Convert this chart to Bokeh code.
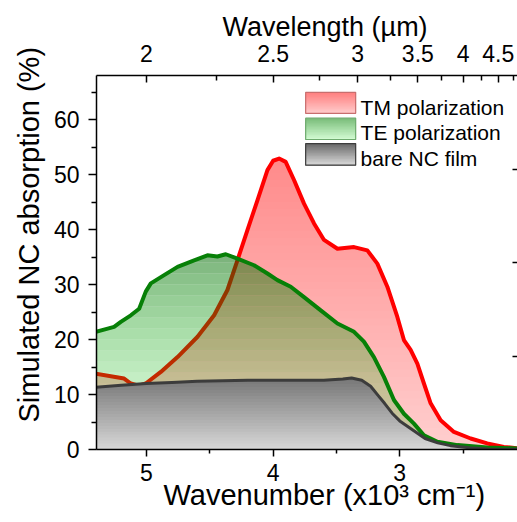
import numpy as np
from bokeh.plotting import figure
from bokeh.models import Range1d, LinearAxis, FixedTicker, CustomJSTickFormatter, Label, Title
from bokeh.embed import file_html
from bokeh.resources import INLINE

# ---------------- data ----------------
tm_wn = [5.40, 5.177, 5.124, 5.061, 5.006, 4.887, 4.755, 4.597, 4.466, 4.361, 4.282,
         4.203, 4.124, 4.045, 4.00, 3.953, 3.901, 3.835, 3.756, 3.677, 3.598, 3.492,
         3.361, 3.256, 3.177, 3.098, 3.019, 2.967, 2.914, 2.861, 2.809, 2.756, 2.677,
         2.572, 2.440, 2.309, 2.178, 2.07]
tm_abs = [13.8, 12.9, 12.0, 11.6, 12.0, 14.1, 16.8, 20.5, 24.4, 29.0, 34.4,
          39.9, 45.3, 50.8, 52.5, 52.9, 52.3, 49.0, 44.7, 41.1, 38.1, 36.5,
          36.8, 36.2, 33.8, 29.6, 24.1, 19.9, 18.1, 15.6, 12.0, 8.4, 5.3,
          3.2, 2.0, 1.1, 0.47, 0.2]

te_wn = [5.40, 5.256, 5.203, 5.124, 5.058, 5.006, 4.966, 4.861, 4.755, 4.624, 4.519,
         4.440, 4.374, 4.282, 4.151, 4.045, 3.966, 3.861, 3.756, 3.624, 3.492, 3.361,
         3.283, 3.204, 3.125, 3.046, 2.967, 2.888, 2.809, 2.703, 2.545, 2.309, 2.07]
te_abs = [21.4, 22.3, 23.2, 24.4, 25.6, 28.7, 30.2, 31.7, 33.2, 34.4, 35.3,
          35.1, 35.5, 34.7, 33.5, 32.0, 30.8, 29.6, 27.7, 25.3, 22.9, 21.4,
          19.6, 16.8, 13.2, 9.0, 6.5, 4.7, 2.6, 1.4, 0.8, 0.36, 0.2]

bare_wn = [5.40, 5.2, 5.0, 4.8, 4.6, 4.4, 4.2, 4.0, 3.8, 3.6, 3.45, 3.38, 3.3, 3.23,
           3.17, 3.12, 3.06, 3.0, 2.9, 2.8, 2.7, 2.6, 2.45, 2.3, 2.07]
bare_abs = [11.3, 11.7, 12.0, 12.2, 12.4, 12.5, 12.6, 12.6, 12.6, 12.6, 12.8, 13.0, 12.6,
            11.5, 9.8, 8.4, 6.6, 5.2, 3.6, 2.0, 1.2, 0.7, 0.3, 0.1, 0.05]

wn_ticks = [5, 4, 3]
wn_minor = [4.5, 3.5, 2.5]
abs_ticks = [0, 10, 20, 30, 40, 50, 60]
abs_minor = [5, 15, 25, 35, 45, 55, 65]
wl_ticks = [2, 2.5, 3, 3.5, 4, 4.5]
wl_minor = [2.25, 2.75, 3.25, 3.75, 4.25, 4.75]
right_ticks = [1, 2, 3]
legend_labels = ["TM polarization", "TE polarization", "bare NC film"]
x_title = "Wavenumber (x10\u00b3 cm\u207b\u00b9)"
top_title = "Wavelength (\u00b5m)"
y_title = "Simulated NC absorption (%)"

FONT = "Liberation Sans"

# ---------------- figure ----------------
p = figure(width=517, height=522, x_range=Range1d(5.395, 2.07), y_range=Range1d(0, 68),
           x_axis_type=None, y_axis_type=None, output_backend="svg", toolbar_location=None,
           min_border_left=96, min_border_right=0, min_border_top=75, min_border_bottom=73)
p.extra_y_ranges = {"right": Range1d(0, 4)}
p.outline_line_color = None
p.background_fill_color = "white"
p.border_fill_color = "white"


def style_axis(ax, tick_in, tick_out, mtick_in, mtick_out):
    ax.axis_line_color = "black"
    ax.axis_line_width = 1.5
    ax.major_tick_line_color = "black"
    ax.major_tick_line_width = 1.5
    ax.minor_tick_line_color = "black"
    ax.minor_tick_line_width = 1.5
    ax.major_tick_in = tick_in
    ax.major_tick_out = tick_out
    ax.minor_tick_in = mtick_in
    ax.minor_tick_out = mtick_out
    ax.major_label_text_font = FONT
    ax.major_label_text_font_size = "23px"
    ax.major_label_text_color = "black"


bottom = LinearAxis(ticker=FixedTicker(ticks=wn_ticks, minor_ticks=wn_minor))
style_axis(bottom, 0, 7, 0, 4)
bottom.major_label_standoff = 7
p.add_layout(bottom, "below")

left = LinearAxis(ticker=FixedTicker(ticks=abs_ticks, minor_ticks=abs_minor))
style_axis(left, 0, 8, 0, 5)
left.major_label_standoff = 9
p.add_layout(left, "left")

top = LinearAxis(ticker=FixedTicker(ticks=[10.0 / w for w in wl_ticks],
                                    minor_ticks=[10.0 / w for w in wl_minor]),
                 formatter=CustomJSTickFormatter(code="return String(Math.round(1000 / tick) / 100);"))
style_axis(top, 7, 0, 5, 0)
top.major_label_standoff = 14
p.add_layout(top, "above")

right = LinearAxis(y_range_name="right", ticker=FixedTicker(ticks=right_ticks, minor_ticks=[]),
                   formatter=CustomJSTickFormatter(code="return '';"))
right.axis_line_color = None
right.major_tick_in = 5
right.major_tick_out = 0
right.minor_tick_in = 0
right.minor_tick_out = 0
right.major_tick_line_color = "black"
right.major_tick_line_width = 1.5
right.major_label_standoff = 0
right.major_label_text_font_size = "0px"
p.add_layout(right, "right")

# axis titles (as panel titles so they can be offset like the reference)
p.add_layout(Title(text=x_title, text_font=FONT, text_font_size="29px", text_font_style="normal",
                   text_color="black", align="left", offset=67, vertical_align="top",
                   standoff=-10), "below")
p.add_layout(Title(text=top_title, text_font=FONT, text_font_size="27px", text_font_style="normal",
                   text_color="black", align="left", offset=126, vertical_align="bottom",
                   standoff=-1), "above")
p.add_layout(Title(text=y_title, text_font=FONT, text_font_size="29px", text_font_style="normal",
                   text_color="black", align="left", offset=27, vertical_align="bottom",
                   standoff=12), "left")


# ---------------- gradient fills ----------------
def dense(xs, ys, n=800):
    xs = np.asarray(xs, float)
    ys = np.asarray(ys, float)
    o = np.argsort(xs)
    xf = np.union1d(np.linspace(xs.min(), xs.max(), n), xs)
    return xf, np.interp(xf, xs[o], ys[o])


def mix(c0, c1, t):
    t = min(max(t, 0.0), 1.0)
    return tuple(int(round(a + (b - a) * t)) for a, b in zip(c0, c1))


def hexc(c):
    return "#%02x%02x%02x" % c


def opaque_gradient(xs, ys, c_bot, c_top, v_top, n):
    xf, yf = dense(xs, ys)
    for k in range(n):
        hi = v_top * (n - k) / n
        t = (hi - v_top / (2 * n)) / v_top
        p.varea(x=xf, y1=0, y2=np.minimum(yf, hi), fill_color=hexc(mix(c_bot, c_top, t)))


# TM (red) fill, opaque over white
opaque_gradient(tm_wn, tm_abs, (255, 207, 207), (255, 138, 138), 53.0, 40)
p.line(tm_wn, tm_abs, line_color="#ff0000", line_width=4, line_join="round")

# TE (green) fill, translucent bands aligned to 2-unit steps
xf, yf = dense(te_wn, te_abs)
edges = np.arange(0, 38, 2)
for a, b in zip(edges[:-1], edges[1:]):
    mid = 0.5 * (a + b)
    t = (mid - 12.0) / (35.0 - 12.0)
    col = mix((0, 185, 0), (0, 108, 0), t)
    alpha = 0.22 + (0.51 - 0.22) * min(max(t, 0.0), 1.0)
    p.varea(x=xf, y1=a, y2=np.clip(yf, a, b), fill_color=hexc(col), fill_alpha=alpha)
p.line(te_wn, te_abs, line_color="#078007", line_width=4, line_join="round")

# bare NC film (gray) fill, opaque
opaque_gradient(bare_wn, bare_abs, (216, 216, 216), (118, 118, 118), 13.0, 24)
p.line(bare_wn, bare_abs, line_color="#3c3c3c", line_width=3, line_join="round")

# ---------------- legend (gradient swatches) ----------------
sw_left, sw_right = 3.743, 3.348
rows = [(64.95, 61.13), (60.24, 56.36), (55.62, 51.69)]
sw_cols = [((255, 125, 125), (255, 205, 205), "#c86e6e"),
           ((120, 188, 120), (212, 252, 212), "#6eaa6e"),
           ((105, 105, 105), (218, 218, 218), "#3c3c3c")]
baselines = [62.2, 57.6, 53.0]
for (ytop, ybot), (ct, cb, border), lab, bl in zip(rows, sw_cols, legend_labels, baselines):
    n = 14
    tops, cols = [], []
    for k in range(n):
        tops.append(ytop - (ytop - ybot) * k / n)
        cols.append(hexc(mix(ct, cb, (k + 0.5) / n)))
    p.quad(left=[sw_left] * n, right=[sw_right] * n, top=tops, bottom=[ybot] * n,
           fill_color=cols, line_color=None)
    p.quad(left=[sw_left], right=[sw_right], top=[ytop], bottom=[ybot],
           fill_color=None, line_color=border, line_width=1.2)
    p.add_layout(Label(x=3.309, y=bl, text=lab, text_font=FONT, text_font_size="21px",
                       text_color="black", text_align="left", text_baseline="alphabetic"))

open("out.html", "w").write(file_html(p, INLINE))
